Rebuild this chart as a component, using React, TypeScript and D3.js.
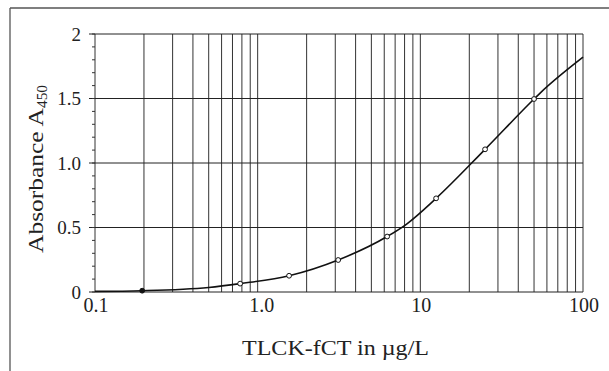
import React from "react";
import * as d3 from "d3";

// measured standards (conc in ug/L, absorbance)
const pointConc = [0.195, 0.78, 1.56, 3.125, 6.25, 12.5, 25, 50];
const pointAbs = [0.01, 0.065, 0.126, 0.248, 0.43, 0.726, 1.106, 1.496];

// fitted curve
const curveConc = [0.1, 0.195, 0.5, 0.78, 1.56, 3.125, 6.25, 8.2, 12.5, 25, 50, 54.3, 100];
const curveAbs = [0.005, 0.01, 0.035, 0.065, 0.126, 0.248, 0.43, 0.525, 0.726, 1.106, 1.496, 1.54, 1.82];

const xTicks = [0.1, 1, 10, 100];
const xTickLabels = ["0.1", "1.0", "10", "100"];
const yTicks = [0, 0.5, 1, 1.5, 2];
const yTickLabels = ["0", "0.5", "1.0", "1.5", "2"];

const W = 609;
const H = 371;
const m = { left: 95, right: 26, top: 34, bottom: 79 };
const font = "'Liberation Serif', 'Times New Roman', serif";

export default function App() {
  const x = d3.scaleLog().domain([0.1, 100]).range([m.left, W - m.right]);
  const y = d3.scaleLinear().domain([0, 2]).range([H - m.bottom, m.top]);

  // every 1..9 x decade gridline
  const vGrid: number[] = [];
  [0.1, 1, 10].forEach((d) => {
    for (let k = 1; k <= 9; k++) vGrid.push(d * k);
  });
  vGrid.push(100);

  const minorY = d3.range(0, 2.001, 0.1);

  const line = d3
    .line<number>()
    .x((_, i) => x(curveConc[i]))
    .y((d) => y(d))
    .curve(d3.curveMonotoneX);

  return (
    <svg
      width={W}
      height={H}
      style={{ position: "absolute", left: 0, top: 0, background: "#fff" }}
    >
      {/* frame */}
      <line x1={10} y1={8} x2={W} y2={8} stroke="#555" strokeWidth={1.3} />
      <line x1={10} y1={8} x2={10} y2={H} stroke="#555" strokeWidth={1.3} />

      {/* vertical grid */}
      {vGrid.map((v, i) => (
        <line
          key={"v" + i}
          x1={x(v)}
          x2={x(v)}
          y1={y(2)}
          y2={y(0)}
          stroke="#333"
          strokeWidth={1}
        />
      ))}
      {/* horizontal grid */}
      {yTicks.map((v, i) => (
        <line
          key={"h" + i}
          x1={x(0.1) - 6}
          x2={x(100)}
          y1={y(v)}
          y2={y(v)}
          stroke="#222"
          strokeWidth={1}
        />
      ))}
      {/* minor y ticks */}
      {minorY.map((v, i) => (
        <line
          key={"my" + i}
          x1={x(0.1) - 3}
          x2={x(0.1)}
          y1={y(v)}
          y2={y(v)}
          stroke="#333"
          strokeWidth={1}
        />
      ))}

      {/* curve */}
      <path d={line(curveAbs) || ""} fill="none" stroke="#111" strokeWidth={1.6} />

      {/* points */}
      {pointConc.map((c, i) => (
        <circle
          key={"p" + i}
          cx={x(c)}
          cy={y(pointAbs[i])}
          r={2.4}
          fill={i === 0 ? "#111" : "#fff"}
          stroke="#111"
          strokeWidth={1}
        />
      ))}

      {/* tick labels */}
      {yTicks.map((v, i) => (
        <text
          key={"yl" + i}
          x={x(0.1) - 14}
          y={y(v) + 6.5}
          textAnchor="end"
          fontFamily={font}
          fontSize={19}
          fill="#222"
        >
          {yTickLabels[i]}
        </text>
      ))}
      {xTicks.map((v, i) => (
        <text
          key={"xl" + i}
          x={x(v) + (i === 1 ? 4 : 1)}
          y={y(0) + 20}
          textAnchor="middle"
          fontFamily={font}
          fontSize={20}
          fill="#222"
        >
          {xTickLabels[i]}
        </text>
      ))}

      {/* axis titles */}
      <text
        x={335.5}
        y={355}
        textAnchor="middle"
        fontFamily={font}
        fontSize={20}
        fill="#222"
        textLength={187}
        lengthAdjust="spacingAndGlyphs"
      >
        TLCK-fCT in µg/L
      </text>
      <text
        transform="translate(43,253) rotate(-90)"
        fontFamily={font}
        fontSize={21}
        fill="#222"
      >
        <tspan textLength={145} lengthAdjust="spacingAndGlyphs">Absorbance A</tspan>
        <tspan fontSize={14} dy={4} textLength={23} lengthAdjust="spacingAndGlyphs">450</tspan>
      </text>
    </svg>
  );
}
